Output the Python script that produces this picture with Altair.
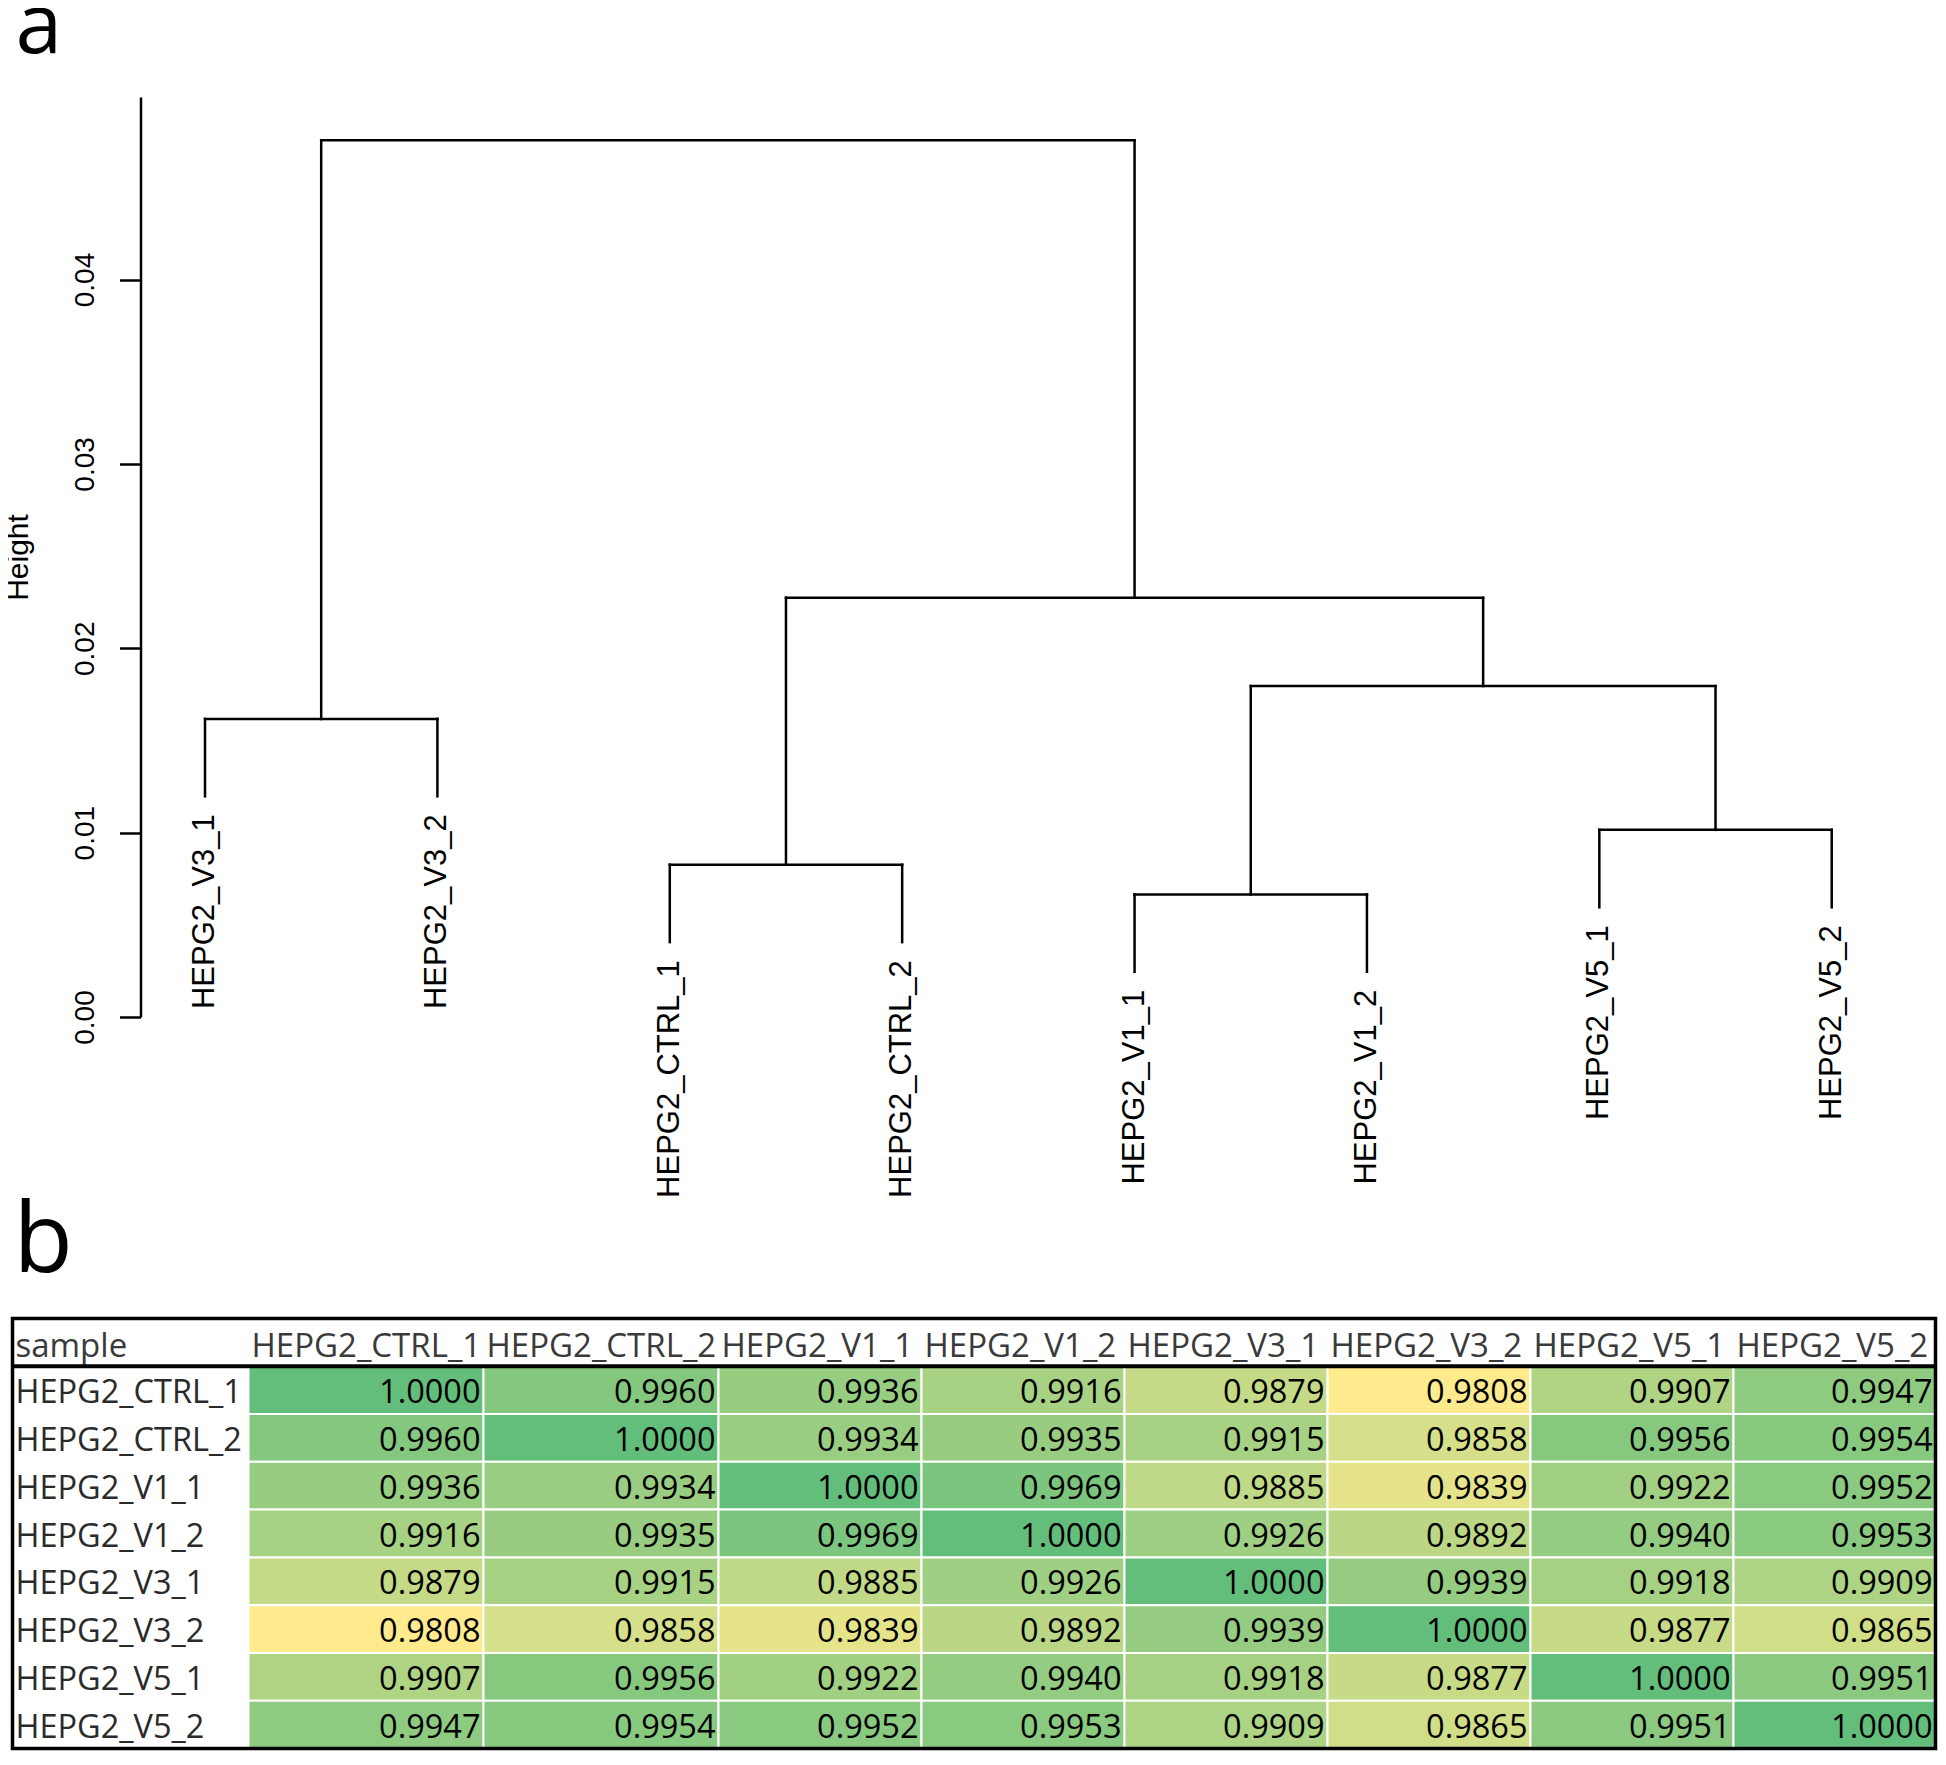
import altair as alt
import pandas as pd

# ---------------- data ----------------
samples = ["HEPG2_CTRL_1", "HEPG2_CTRL_2", "HEPG2_V1_1", "HEPG2_V1_2",
           "HEPG2_V3_1", "HEPG2_V3_2", "HEPG2_V5_1", "HEPG2_V5_2"]
corr = [
    [1.0000, 0.9960, 0.9936, 0.9916, 0.9879, 0.9808, 0.9907, 0.9947],
    [0.9960, 1.0000, 0.9934, 0.9935, 0.9915, 0.9858, 0.9956, 0.9954],
    [0.9936, 0.9934, 1.0000, 0.9969, 0.9885, 0.9839, 0.9922, 0.9952],
    [0.9916, 0.9935, 0.9969, 1.0000, 0.9926, 0.9892, 0.9940, 0.9953],
    [0.9879, 0.9915, 0.9885, 0.9926, 1.0000, 0.9939, 0.9918, 0.9909],
    [0.9808, 0.9858, 0.9839, 0.9892, 0.9939, 1.0000, 0.9877, 0.9865],
    [0.9907, 0.9956, 0.9922, 0.9940, 0.9918, 0.9877, 1.0000, 0.9951],
    [0.9947, 0.9954, 0.9952, 0.9953, 0.9909, 0.9865, 0.9951, 1.0000],
]

# dendrogram (R hclust style merge table; negative = leaf index in leaf_order)
leaf_order = ["HEPG2_V3_1", "HEPG2_V3_2", "HEPG2_CTRL_1", "HEPG2_CTRL_2",
              "HEPG2_V1_1", "HEPG2_V1_2", "HEPG2_V5_1", "HEPG2_V5_2"]
merge_left = [-1, -3, -5, -7, 3, 2, 1]
merge_right = [-2, -4, -6, -8, 4, 5, 6]
merge_height = [0.01617, 0.00826, 0.00665, 0.01015, 0.01795, 0.02274, 0.04755]
hang = 0.0042
y_ticks = [0.00, 0.01, 0.02, 0.03, 0.04]

# ---------------- styles ----------------
col_widths = [236, 235, 235, 203, 203, 203, 203, 203, 202]
LINE_FONT = "Liberation Sans"
TABLE_FONT = "Open Sans"

# ---------------- dendrogram segments ----------------
merge_x = []
segs = []
leaf_rows = []
for i, (l, r, h) in enumerate(zip(merge_left, merge_right, merge_height)):
    xs = []
    for c in (l, r):
        if c < 0:
            cx = -c
            ch = h - hang
            leaf_rows.append({"label": leaf_order[-c - 1], "x": cx, "y": ch})
        else:
            cx = merge_x[c - 1]
            ch = merge_height[c - 1]
        segs.append({"x": cx, "x2": cx, "y": ch, "y2": h})
        xs.append(cx)
    segs.append({"x": xs[0], "x2": xs[1], "y": h, "y2": h})
    merge_x.append((xs[0] + xs[1]) / 2)

seg_df = pd.DataFrame(segs)
leaf_df = pd.DataFrame(leaf_rows)

x_scale = alt.Scale(domain=[0.1716, 8.4466], nice=False, zero=False)
y_scale = alt.Scale(domain=[0, 0.0499], nice=False, zero=False)

rules = alt.Chart(seg_df).mark_rule(color="black", strokeWidth=2.5, strokeCap="square").encode(
    x=alt.X("x:Q", scale=x_scale, axis=None),
    x2="x2:Q",
    y=alt.Y("y:Q", scale=y_scale,
            axis=alt.Axis(values=y_ticks, format=".2f", title="Height", grid=False,
                          offset=-128,
                          domainColor="black", domainWidth=2.5, tickColor="black",
                          tickWidth=2.5, tickSize=21, labelAngle=270, labelAlign="center",
                          labelBaseline="bottom", labelPadding=20, labelFont=LINE_FONT,
                          labelFontSize=28, labelColor="black", titleFont=LINE_FONT,
                          titleFontSize=30, titleFontWeight="normal", titleColor="black",
                          titlePadding=38, labelOverlap=False, labelFlush=False)),
    y2="y2:Q",
)

leaf_labels = alt.Chart(leaf_df).mark_text(
    angle=270, align="right", baseline="middle", dx=-18,
    font=LINE_FONT, fontSize=31, color="black"
).encode(
    x=alt.X("x:Q", scale=x_scale, axis=None),
    y=alt.Y("y:Q", scale=y_scale),
    text="label:N",
)

dendro = alt.layer(rules, leaf_labels).properties(
    width=1923, height=920,
    title=alt.TitleParams("a", anchor="start", frame="bounds", fontSize=84, font=TABLE_FONT,
                          fontWeight="normal", color="black", baseline="top",
                          offset=26, dx=12),
)

# ---------------- table ----------------
edges = [0]
for w in col_widths:
    edges.append(edges[-1] + w)
total_w = edges[-1]

cells = []
for ri, rname in enumerate(samples):
    for ci, cname in enumerate(samples):
        cells.append({"row": rname, "col": cname, "value": corr[ri][ci],
                      "x0": edges[ci + 1], "x1": edges[ci + 2],
                      "y0": ri + 1, "y1": ri + 2, "ym": ri + 1.5})
cell_df = pd.DataFrame(cells)

row_df = pd.DataFrame([{"label": s, "x0": edges[0], "ym": i + 1.5} for i, s in enumerate(samples)])
head_df = pd.DataFrame([{"label": s, "x0": edges[i], "ym": 0.5}
                        for i, s in enumerate(["sample"] + samples)])
frame_df = pd.DataFrame([{"x0": 0, "x1": total_w, "y0": 0, "y1": len(samples) + 1, "yh": 1}])

tx = alt.Scale(domain=[0, total_w], nice=False, zero=False)
ty = alt.Scale(domain=[0, len(samples) + 1], nice=False, zero=False, reverse=True)

rect = alt.Chart(cell_df).mark_rect(stroke="white", strokeWidth=2).encode(
    x=alt.X("x0:Q", scale=tx, axis=None), x2="x1:Q",
    y=alt.Y("y0:Q", scale=ty, axis=None), y2="y1:Q",
    color=alt.Color("value:Q", legend=None,
                    scale=alt.Scale(domain=[min(min(r) for r in corr), 1.0],
                                    range=["#FFEB8E", "#63BE7B"], interpolate="rgb")),
)
vals = alt.Chart(cell_df).mark_text(align="right", baseline="middle", dx=-3, dy=3,
                                    font=TABLE_FONT, fontSize=32.5, color="black").encode(
    x=alt.X("x1:Q", scale=tx, axis=None),
    y=alt.Y("ym:Q", scale=ty, axis=None),
    text=alt.Text("value:Q", format=".4f"),
)
rows_t = alt.Chart(row_df).mark_text(align="left", baseline="middle", dx=3, dy=3,
                                     font=TABLE_FONT, fontSize=32.5, color="#2a2a2a").encode(
    x=alt.X("x0:Q", scale=tx, axis=None),
    y=alt.Y("ym:Q", scale=ty, axis=None),
    text="label:N",
)
head_t = alt.Chart(head_df).mark_text(align="left", baseline="middle", dx=3, dy=5,
                                      font=TABLE_FONT, fontSize=33, color="#3a3a3a").encode(
    x=alt.X("x0:Q", scale=tx, axis=None),
    y=alt.Y("ym:Q", scale=ty, axis=None),
    text="label:N",
)
frame = alt.Chart(frame_df).mark_rect(fillOpacity=0, stroke="black", strokeWidth=3.5).encode(
    x=alt.X("x0:Q", scale=tx, axis=None), x2="x1:Q",
    y=alt.Y("y0:Q", scale=ty, axis=None), y2="y1:Q",
)
head_line = alt.Chart(frame_df).mark_rule(color="black", strokeWidth=4).encode(
    x=alt.X("x0:Q", scale=tx, axis=None), x2="x1:Q",
    y=alt.Y("yh:Q", scale=ty, axis=None),
)

table = alt.layer(rect, vals, rows_t, head_t, frame, head_line).properties(
    width=total_w, height=430,
    title=alt.TitleParams("b", anchor="start", frame="bounds", fontSize=97, font=TABLE_FONT,
                          fontWeight="normal", color="black", baseline="top",
                          offset=24.5, dx=3),
)

chart = alt.vconcat(dendro, table, spacing=-4.5).properties(
    padding={"left": -4.5, "top": -22, "right": 0, "bottom": 0},
    background="white",
).configure_view(strokeWidth=0)

chart.save("out.html", embed_options={"renderer": "svg", "actions": False})
